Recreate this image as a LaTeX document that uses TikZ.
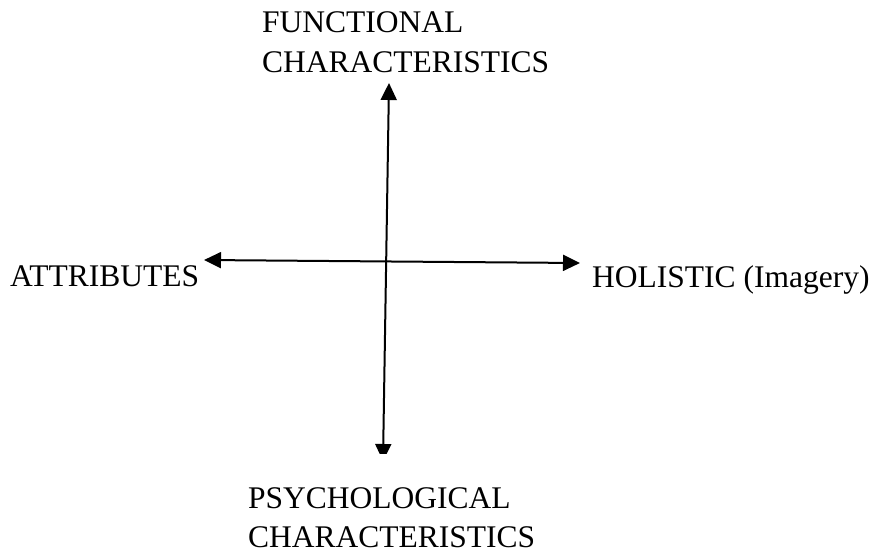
\documentclass[tikz,border=0pt]{standalone}
\usepackage{fontspec}
\setmainfont{Liberation Serif}
\usepackage{tikz}
\usetikzlibrary{arrows.meta}

\begin{document}
\begin{tikzpicture}[
  x=1pt, y=-1pt,
  lbl/.style={anchor=base west, inner sep=0pt,
    font=\fontsize{31.5}{40}\selectfont},
  arr/.style={{Triangle[length=17pt,width=16pt]}-{Triangle[length=17pt,width=16pt]},
    line width=2pt}
]
\useasboundingbox (0,0) rectangle (871,552);
% Axis labels
\node[lbl] (F1) at (262, 32)  {FUNCTIONAL};
\node[lbl] (F2) at (262, 72)  {CHARACTERISTICS};
\node[lbl] (P1) at (248, 508) {PSYCHOLOGICAL};
\node[lbl] (P2) at (248, 547) {CHARACTERISTICS};
\node[lbl] (AT) at (10,  286) {ATTRIBUTES};
\node[lbl] (HO) at (592, 287) {HOLISTIC (Imagery)};
% Axis end points
\coordinate (top)   at (389, 83);
\coordinate (bot)   at (383, 461);
\coordinate (left)  at (204, 260);
\coordinate (right) at (580, 263);
% Axes
\begin{scope}
  \clip (0,0) rectangle (871,453);
  \draw[arr] (bot) -- (top);
\end{scope}
\draw[arr] (left) -- (right);
\end{tikzpicture}
\end{document}
